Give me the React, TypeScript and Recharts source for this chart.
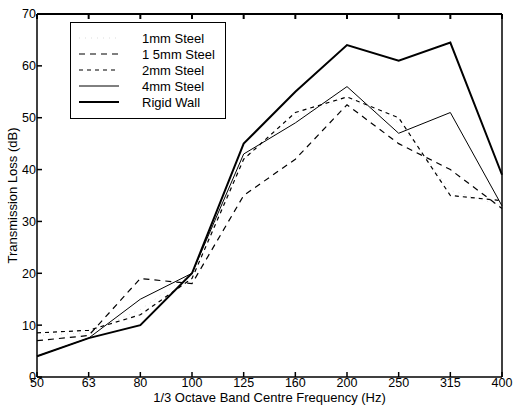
import React from "react"
import { LineChart, Line, XAxis, YAxis, Legend } from "recharts"

// Data
const frequencies = ["50", "63", "80", "100", "125", "160", "200", "250", "315", "400"]
const steel1mm = [8, 8.5, 13, 20, 42, 50, 54, 49, 36, 33]
const steel15mm = [7, 8, 19, 18, 35, 42, 52.5, 45, 40, 32.5]
const steel2mm = [8.5, 9, 12, 19, 42, 51, 54, 50, 35, 34]
const steel4mm = [4, 7.5, 15, 20, 43, 49, 56, 47, 51, 33]
const rigidWall = [4, 7.5, 10, 20, 45, 55, 64, 61, 64.5, 39]
const yTicks = [0, 10, 20, 30, 40, 50, 60, 70]

const font = "Arial, 'Liberation Sans', sans-serif"

const series = [
  { key: "s1", name: "1mm Steel", color: "#c8c8c8", width: 0.6, dash: "1 5" },
  { key: "s15", name: "1 5mm Steel", color: "#000", width: 1.2, dash: "6 5" },
  { key: "s2", name: "2mm Steel", color: "#000", width: 1.2, dash: "4 4" },
  { key: "s4", name: "4mm Steel", color: "#000", width: 1, dash: undefined },
  { key: "rw", name: "Rigid Wall", color: "#000", width: 2, dash: undefined },
]

const data = frequencies.map((f, i) => ({
  f,
  s1: steel1mm[i],
  s15: steel15mm[i],
  s2: steel2mm[i],
  s4: steel4mm[i],
  rw: rigidWall[i],
}))

const LegendBox = () => (
  <div
    style={{
      border: "1px solid #000",
      background: "#fff",
      width: 156,
      height: 97,
      boxSizing: "border-box",
      fontFamily: font,
      fontSize: 13,
      color: "#000",
      paddingTop: 7,
    }}
  >
    {series.map((s) => (
      <div key={s.key} style={{ display: "flex", alignItems: "center", height: 16 }}>
        <svg width={62} height={16}>
          <line
            x1={8}
            x2={48}
            y1={8}
            y2={8}
            stroke={s.color}
            strokeWidth={s.width}
            strokeDasharray={s.dash}
          />
        </svg>
        <span style={{ marginLeft: 9 }}>{s.name}</span>
      </div>
    ))}
  </div>
)

// y title, drawn left of the tick labels
const YTitle = (props: any) => {
  const vb = props.viewBox || {}
  const cy = (vb.y ?? 15) + (vb.height ?? 363) / 2
  return (
    <text
      x={17}
      y={cy}
      transform={`rotate(-90 17 ${cy})`}
      textAnchor="middle"
      fill="#000"
      fontSize={13}
      fontFamily={font}
    >
      Transmission Loss (dB)
    </text>
  )
}

const XTitle = (props: any) => {
  const vb = props.viewBox || {}
  const cx = (vb.x ?? 37) + (vb.width ?? 465) / 2
  return (
    <text x={cx} y={402} textAnchor="middle" fill="#000" fontSize={13} fontFamily={font}>
      1/3 Octave Band Centre Frequency (Hz)
    </text>
  )
}

const hiddenTick = { fill: "transparent", fontSize: 1 }

const App: React.FC = () => {
  const tickStyle = { fill: "#000", fontSize: 12.5, fontFamily: font }
  return (
    <div style={{ position: "absolute", left: 0, top: 0 }}>
      <LineChart width={516} height={406} data={data} margin={{ top: 13, right: 13, left: 0, bottom: 0 }}>
        <XAxis
          dataKey="f"
          height={29}
          interval={0}
          tickSize={-5}
          tickMargin={6}
          tick={tickStyle}
          stroke="#000"
          strokeWidth={1.5}
          label={{ content: XTitle }}
        />
        <XAxis xAxisId="top" dataKey="f" orientation="top" height={1} interval={0} tickSize={-5} tick={hiddenTick} stroke="#000" strokeWidth={2} />
        <YAxis
          width={37}
          domain={[0, 70]}
          ticks={yTicks}
          tickSize={-5}
          tickMargin={6}
          tick={tickStyle}
          stroke="#000"
          strokeWidth={1.5}
          label={{ content: YTitle }}
        />
        <YAxis yAxisId="right" orientation="right" width={1} domain={[0, 70]} ticks={yTicks} tickSize={-5} tick={hiddenTick} stroke="#000" strokeWidth={1.5} />
        <Legend
          layout="vertical"
          align="center"
          verticalAlign="middle"
          content={() => <LegendBox />}
          wrapperStyle={{ left: 70, top: 22, width: 156, height: 97 }}
        />
        {series.map((s) => (
          <Line
            key={s.key}
            dataKey={s.key}
            name={s.name}
            stroke={s.color}
            strokeWidth={s.width}
            strokeDasharray={s.dash}
            dot={false}
            isAnimationActive={false}
          />
        ))}
      </LineChart>
    </div>
  )
}

export default App
